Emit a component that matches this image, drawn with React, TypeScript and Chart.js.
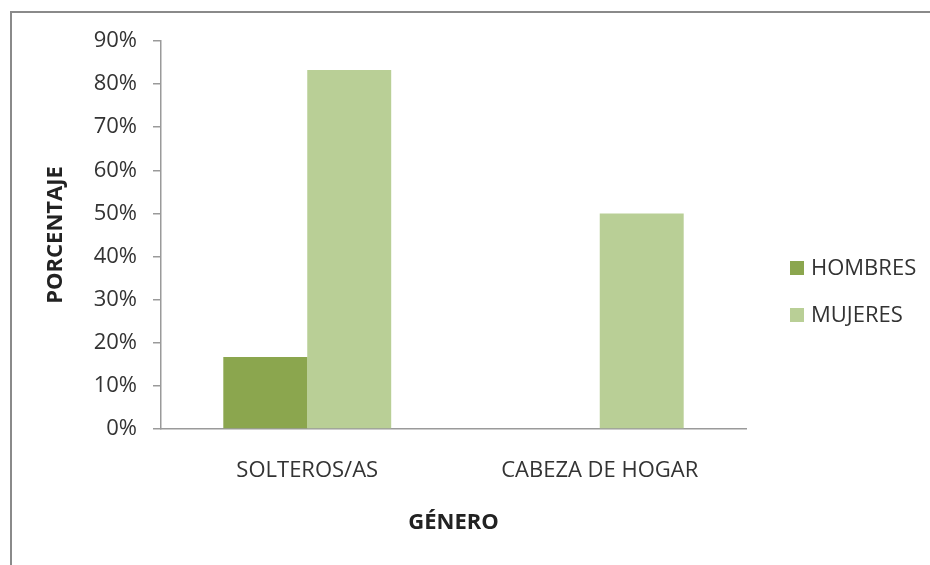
import React, { useEffect, useRef } from "react";
import { Chart, registerables } from "chart.js";

Chart.register(...registerables);

const categories = ["SOLTEROS/AS", "CABEZA DE HOGAR"];
const seriesNames = ["HOMBRES", "MUJERES"];
const hombres = [16.7, 0];
const mujeres = [83.3, 50];
const yTicks = [0, 10, 20, 30, 40, 50, 60, 70, 80, 90];
const colors = ["#8BA64E", "#B9CF96"];

const FONT = "'Open Sans', 'DejaVu Sans', sans-serif";
const FS = 22;

export default function App() {
  const ref = useRef<HTMLCanvasElement>(null);
  useEffect(() => {
    const canvas = ref.current!;
    const frame = {
      id: "frame",
      beforeDraw(chart: any) {
        const ctx = chart.ctx;
        ctx.save();
        ctx.fillStyle = "#ffffff";
        ctx.fillRect(0, 0, chart.width, chart.height);
        ctx.strokeStyle = "#8a8a8a";
        ctx.lineWidth = 2;
        ctx.beginPath();
        ctx.moveTo(11, chart.height + 5);
        ctx.lineTo(11, 12);
        ctx.lineTo(chart.width + 5, 12);
        ctx.stroke();
        ctx.restore();
      },
      afterDraw(chart: any) {
        const ctx = chart.ctx;
        ctx.save();
        ctx.font = `${FS}px ${FONT}`;
        ctx.textBaseline = "middle";
        ctx.textAlign = "left";
        const ys = [268, 315];
        seriesNames.forEach((n, i) => {
          ctx.fillStyle = colors[i];
          ctx.fillRect(790, ys[i] - 7, 14, 14);
          ctx.fillStyle = "#333333";
          ctx.fillText(n, 811, ys[i] + 1);
        });
        ctx.restore();
      },
    };
    const chart = new Chart(canvas, {
      type: "bar",
      data: {
        labels: categories,
        datasets: [
          { label: seriesNames[0], data: hombres, backgroundColor: colors[0], borderWidth: 0 },
          { label: seriesNames[1], data: mujeres, backgroundColor: colors[1], borderWidth: 0 },
        ],
      },
      options: {
        responsive: false,
        animation: false,
        devicePixelRatio: 1,
        layout: { padding: { left: 10, top: 41, right: 184, bottom: 0 } },
        datasets: { bar: { categoryPercentage: 0.574, barPercentage: 1.0 } },
        plugins: { legend: { display: false }, tooltip: { enabled: false } },
        scales: {
          x: {
            grid: { display: false, drawTicks: false },
            border: { display: true, color: "#9a9a9a", width: 1.5 },
            ticks: { color: "#333333", font: { family: FONT, size: FS }, padding: 29 },
            title: {
              display: true,
              text: "GÉNERO",
              color: "#222222",
              font: { family: FONT, size: FS, weight: "bold" },
              padding: { top: 0, bottom: 29 },
            },
            afterFit(scale: any) {
              scale.height = 565 - 429;
            },
          },
          y: {
            min: 0,
            max: 90,
            afterBuildTicks(scale: any) {
              scale.ticks = yTicks.map((v) => ({ value: v }));
            },
            grid: { display: true, drawOnChartArea: false, drawTicks: true, tickLength: 8, color: "#9a9a9a", lineWidth: 1.5 },
            border: { display: true, color: "#9a9a9a", width: 1.5 },
            ticks: {
              color: "#333333",
              font: { family: FONT, size: FS },
              padding: 16,
              callback: (v: any) => v + "%",
            },
            title: {
              display: true,
              text: "PORCENTAJE",
              color: "#222222",
              font: { family: FONT, size: FS, weight: "bold" },
              padding: { top: 33, bottom: 0 },
            },
            afterFit(scale: any) {
              scale.width = 161 - 10;
            },
          },
        },
      },
      plugins: [frame],
    });
    return () => chart.destroy();
  }, []);
  return (
    <div style={{ position: "absolute", left: 0, top: 0, width: 930, height: 565 }}>
      <canvas ref={ref} width={930} height={565} style={{ display: "block" }} />
    </div>
  );
}
